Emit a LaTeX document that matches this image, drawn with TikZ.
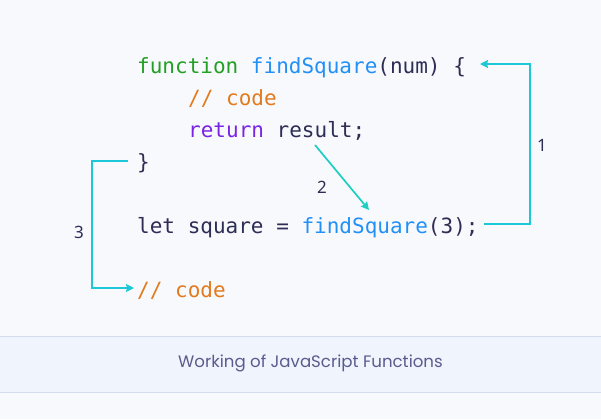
\documentclass[tikz,border=0pt]{standalone}
\usepackage{fontspec}
\setmainfont{Noto Sans}
\newfontfamily\codefont{DejaVu Sans Mono}
\newfontfamily\capfont{Poppins}
\usetikzlibrary{arrows.meta}
\definecolor{bgc}{HTML}{F8F9FC}
\definecolor{band}{HTML}{EFF4FD}
\definecolor{bandline}{HTML}{D3DCEB}
\definecolor{kw}{HTML}{23A023}
\definecolor{fn}{HTML}{2290F5}
\definecolor{navy}{HTML}{2D2D55}
\definecolor{cmt}{HTML}{E27A1E}
\definecolor{ret}{HTML}{7A24E4}
\definecolor{arr}{HTML}{1CC8D6}
\definecolor{arrb}{HTML}{1ECEC2}
\definecolor{capc}{HTML}{5B5B8E}
\tikzset{
  code/.style={inner sep=0pt, anchor=base west, text=navy, font=\codefont\fontsize{21bp}{25bp}\selectfont},
  numlabel/.style={inner sep=0pt, text=navy, font=\fontsize{17bp}{20bp}\selectfont},
  flow/.style={draw=arr, line width=1.7bp, -{Stealth[length=8bp,width=8bp,inset=1bp]}},
}
\begin{document}
\begin{tikzpicture}[x=1bp,y=-1bp]
\useasboundingbox (0,0) rectangle (601,419);
\fill[bgc] (0,0) rectangle (601,419);
\fill[band] (0,336) rectangle (601,392);
\draw[bandline, line width=1bp] (0,336) -- (601,336) (0,392) -- (601,392);
\node[inner sep=0pt, text=capc, font=\capfont\fontsize{16.6bp}{19bp}\selectfont] (cap) at (310.5,363) {Working of JavaScript Functions};

\node[code] (l1) at (137,73) {\textcolor{kw}{function} \textcolor{fn}{findSquare}(num) \{};
\node[code] (l2) at (188,105) {\textcolor{cmt}{// code}};
\node[code] (l3) at (188,137) {\textcolor{ret}{return} result;};
\node[code] (l4) at (137,169) {\}};
\node[code] (l5) at (137,233) {let square = \textcolor{fn}{findSquare}(3);};
\node[code] (l6) at (137,297) {\textcolor{cmt}{// code}};

\coordinate (a1s) at (484,224);
\coordinate (a1e) at (480,64);
\coordinate (a2s) at (315,145);
\coordinate (a2e) at (369,210);
\coordinate (a3s) at (128,161);
\coordinate (a3e) at (134,288);

\draw[flow] (a1s) -- (530,224) -- (530,64) -- (a1e);
\draw[flow, draw=arrb] (a2s) -- (a2e);
\draw[flow] (a3s) -- (92,161) -- (92,288) -- (a3e);

\node[numlabel] (n1) at (542,145) {1};
\node[numlabel] (n2) at (322,187) {2};
\node[numlabel] (n3) at (79,232) {3};
\end{tikzpicture}
\end{document}
